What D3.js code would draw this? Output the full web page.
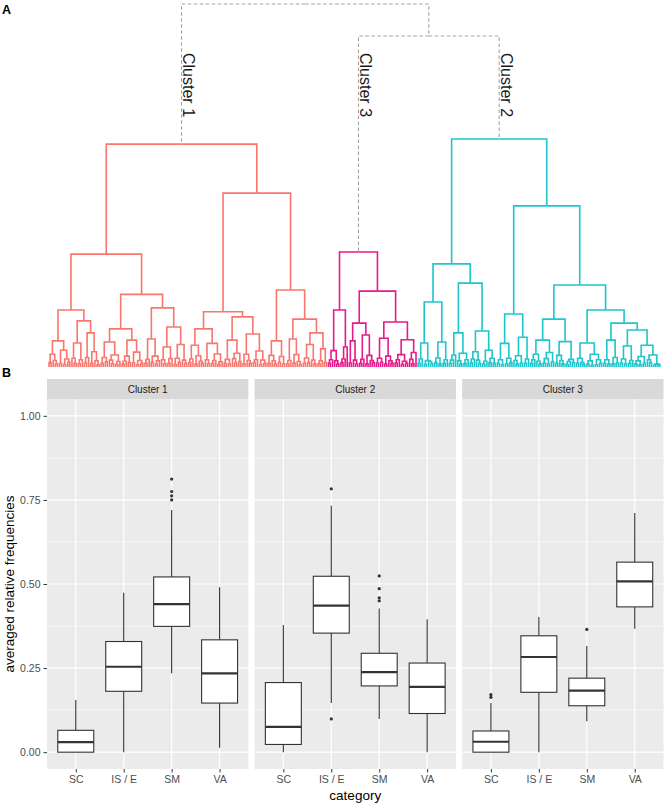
<!DOCTYPE html>
<html>
<head>
<meta charset="utf-8">
<script src="https://cdn.jsdelivr.net/npm/d3@7"></script>
<style>
  body { margin: 0; background: #fff; }
  text { font-family: "Liberation Sans", Arial, sans-serif; }
</style>
</head>
<body>
<div id="graph"></div>
<script>
// ---- panel A: dendrogram, newick with node heights after ")" (leaves empty)
var cluster1 = "(" +
  "((" +
    "(((,)1.2,(,(,)0.8)1.8)3.5,((,)1,((,)0.7,(,)1.3)2.2)4.6)7.2," +
    "(((,(,)1)2.4,((,)0.9,)2)6.6,(((,)1.1,)2.6,((,)1,(,(,)0.6)1.7)4.2)9.4)12.7" +
  ")15.7,(" +
    "((((,)1,(,)1.4)2.6,((,(,)0.9)1.9,((,)0.7,)1.5)3.3)6.9,((((,)0.8,)1.6,(,)1.2)3,((,)1.1,((,)0.6,(,)1)1.8)4.1)7.4)10.5," +
    "((((,)1,)2.1,((,)1.3,((,)0.8,)1.7)3)7.7,(((,(,)0.9)2,((,)1,)2.3)5.5,(((,)0.7,(,)1.2)2.4,(,(,)1)1.9)6.2)11)16.3" +
  ")20)31.1," +
  "((" +
    "((((,)1.2,)2.2,((,)0.8,(,(,)1)1.6)3.1)6,((,(,)0.9)2,(((,)1,)1.8,((,)0.7,)1.4)3.6)6.5)10.5," +
    "((((,)1,(,)0.8)2.1,((,(,)1.1)2.3,(,)1.5)3.8)7.4,(((,)0.9,(,(,)1)1.8)3.5,(((,)1.2,)2,((,)0.7,(,)1)1.9)4.4)9.1)13.8" +
  ")15.2,(" +
    "(((,)1,(,(,)0.8)1.7)3.2,((,)1.3,(,)0.9)2.9)7.2," +
    "((((,)0.9,)1.8,((,)1.1,(,(,)0.7)1.5)3.4)7.7,((((,)1,(,)1.2)2.5,(,(,)0.8)1.9)6.2,(((,)0.9,)1.7,(,)1.2)5)9.4)13.2" +
  ")21.2)47.9" +
")61.4"

var cluster3 = "(" +
  "((((,)1,)2,(,(,)0.8)1.7)4.5,(((,)1.2,)2.2,)5.5)15.7," +
  "((" +
    "((,)1.1,(,(,)0.8)1.9)7.2,(((,)1,)2.1,((,)0.9,(,(,)1.2)1.8)3.2)8.8" +
  ")12.1,(" +
    "(((,)1,(,)1.3)2.4,((,)0.8,(,(,)1)1.7)3)7.9,((((,)1.1,)2,((,)0.7,(,)1)1.6)3.4,((,(,)0.9)2.1,)4)7.5" +
  ")12.4)20.9" +
")31.7"

var cluster2 = "(" +
  "((" +
    "(((,)1,)2.2,((,)0.7,(,(,)0.9)1.5)1.8)6.6,(((,)1.2,(,)0.8)2.5,((,)1,)2)6.9" +
  ")17.9,(" +
    "((((,)1,)1.9,)3.3,((,(,)0.8)1.7,((,)1,)2)3.8)9.4," +
    "((((,)1.1,)2.2,(,(,)1)1.9)4.2,(((,)0.8,)1.6,((,)1.2,(,)1)2.4)4.6)9.9" +
  ")23.1)28.4," +
  "((" +
    "(((,)1,(,)0.6)2,((,)0.9,(,)1.2)2.4)6.5,(((,(,)0.8)1.8,(,)1.1)3.1,((,)1,)2.2)8.2" +
  ")14.6,((" +
    "((((,)1,)2,(,(,)0.8)1.6)3.5,(((,)1.1,(,)0.9)2.3,(,)1.4)4)7.4," +
    "(((,)1,(,(,)0.9)1.8)3.2,(((,)0.7,)1.5,(,)1.2)2.1)7" +
  ")13.2,(" +
    "(((,)1,(,(,)0.7)1.2)2.4,(((,)0.8,(,)0.5)1.7,((,)0.6,(,)1)2)3.5)6.6,(" +
      "(((,)1,(,)0.8)2,((,)0.9,(,)1.1)2.6)7.4," +
      "((((,)1.1,(,)0.8)2.2,((,)1,)1.8)5.8,((((,)0.9,(,)0.6)1.7,(,)1)2.9,((,(,)1.2)2,((,)0.5,(,)0.7)0.8)3.3)6)10.2" +
    ")12.1" +
  ")15.7)22.6)44.4" +
")62.8"

var clusterNames = ["Cluster 1", "Cluster 3", "Cluster 2"]
var clusterColours = ["#F8766D", "#E8198B", "#1CC6CB"]
var topHeights = [100, 91.2]   // root, cluster 3 + cluster 2
var labelHeight = 86.5

// ---- panel B: boxplots
var facets = ["Cluster 1", "Cluster 2", "Cluster 3"]
var categories = ["SC", "IS / E", "SM", "VA"]
var yTicks = [0, 0.25, 0.5, 0.75, 1]
var whiskerLow = [[0, 0, 0.235, 0.013], [0, 0.146, 0.099, 0], [0, 0, 0.092, 0.367]]
var q1 = [[0, 0.181, 0.374, 0.146], [0.023, 0.354, 0.197, 0.115], [0, 0.178, 0.138, 0.432]]
var median = [[0.03, 0.254, 0.44, 0.234], [0.075, 0.436, 0.238, 0.194], [0.031, 0.283, 0.183, 0.508]]
var q3 = [[0.065, 0.329, 0.521, 0.334], [0.207, 0.523, 0.294, 0.265], [0.063, 0.346, 0.22, 0.565]]
var whiskerHigh = [[0.155, 0.474, 0.72, 0.49], [0.378, 0.733, 0.427, 0.395], [0.146, 0.402, 0.316, 0.711]]
var outliers = [
  [[], [], [0.812, 0.775, 0.762, 0.75], []],
  [[], [0.783, 0.099], [0.524, 0.486, 0.459, 0.45], []],
  [[0.171, 0.163], [], [0.365], []]
]

var w = 666, h = 805

var svg = d3.select('#graph')
  .html('')
  .append('svg')
  .attr("width", w)
  .attr("height", h)

function parseNewick(s) {
  var i = 0
  function node() {
    var n = {h: 0, children: null}
    if (s[i] === '(') {
      n.children = []
      i++
      n.children.push(node())
      while (s[i] === ',') { i++; n.children.push(node()) }
      i++
      var m = /^[0-9.]+/.exec(s.slice(i))
      if (m) { n.h = +m[0]; i += m[0].length }
    }
    return n
  }
  return node()
}

function tag(n, c) {
  n.cluster = c
  if (n.children) n.children.forEach(function(k){ tag(k, c) })
}

var trees = [cluster1, cluster3, cluster2].map(parseNewick)
trees.forEach(function(t, i){ tag(t, i); t.top = true })

var tree = {h: topHeights[0], children: [trees[0], {h: topHeights[1], children: [trees[1], trees[2]]}]}

var hier = d3.hierarchy(tree)
d3.cluster().size([613, 1]).separation(function(){ return 1 })(hier)

var dx = function(d){ return 48 + d.x }
var dy = d3.scaleLinear().domain([0, 100]).range([367, 4])

var gA = svg.append("g")

gA.selectAll("path.link")
  .data(hier.links())
  .enter()
  .append("path")
    .attr("class", "link")
    .attr("fill", "none")
    .attr("d", function(l){
      return "M" + dx(l.source) + "," + dy(l.source.data.h) +
        "H" + dx(l.target) + "V" + dy(l.target.data.h)
    })
    .attr("stroke", function(l){
      return l.source.data.cluster === undefined ? "#A3A3A3" : clusterColours[l.target.data.cluster]
    })
    .attr("stroke-width", function(l){ return l.source.data.cluster === undefined ? 1.1 : 1.6 })
    .attr("stroke-dasharray", function(l){ return l.source.data.cluster === undefined ? "3.5,2.5" : null })

gA.selectAll("text.clab")
  .data(hier.descendants().filter(function(d){ return d.data.top }))
  .enter()
  .append("text")
    .attr("class", "clab")
    .attr("transform", function(d){ return "translate(" + (dx(d) + 1.5) + "," + dy(labelHeight) + ") rotate(90)" })
    .attr("font-size", 16)
    .attr("fill", "#1a1a1a")
    .text(function(d){ return clusterNames[d.data.cluster] })

svg.append("text").attr("x", 2).attr("y", 14).attr("font-size", 12.5).attr("font-weight", "bold").text("A")
svg.append("text").attr("x", 2).attr("y", 377).attr("font-size", 12.5).attr("font-weight", "bold").text("B")

// ---- boxplots
var y = d3.scaleLinear().domain([-0.05, 1.05]).range([769, 399])
var fx = d3.scaleBand().domain(facets).range([47, 663.5]).paddingInner(0.03)
var cx = d3.scalePoint().domain(categories).range([0, fx.bandwidth()]).padding(0.6)
var boxW = cx.step() * 0.75

var panels = svg.append("g").selectAll("g.panel")
  .data(facets)
  .enter()
  .append("g")
    .attr("class", "panel")
    .attr("transform", function(d){ return "translate(" + fx(d) + ",0)" })

panels.append("rect")
  .attr("y", 379).attr("width", fx.bandwidth()).attr("height", 20)
  .attr("fill", "#D9D9D9")
panels.append("text")
  .attr("x", fx.bandwidth() / 2).attr("y", 392.5)
  .attr("text-anchor", "middle").attr("font-size", 10).attr("fill", "#1A1A1A")
  .text(function(d){ return d })

panels.append("rect")
  .attr("y", y(1.05)).attr("width", fx.bandwidth()).attr("height", y(-0.05) - y(1.05))
  .attr("fill", "#EBEBEB")

var minor = yTicks.slice(0, -1).map(function(t){ return t + 0.125 })
panels.each(function(f, fi){
  var g = d3.select(this)
  g.selectAll("line.minor").data(minor).enter().append("line")
    .attr("x1", 0).attr("x2", fx.bandwidth())
    .attr("y1", function(d){ return y(d) }).attr("y2", function(d){ return y(d) })
    .attr("stroke", "#fff").attr("stroke-width", 0.6)
  g.selectAll("line.major").data(yTicks).enter().append("line")
    .attr("x1", 0).attr("x2", fx.bandwidth())
    .attr("y1", function(d){ return y(d) }).attr("y2", function(d){ return y(d) })
    .attr("stroke", "#fff").attr("stroke-width", 1.2)
  g.selectAll("line.vmajor").data(categories).enter().append("line")
    .attr("x1", function(d){ return cx(d) }).attr("x2", function(d){ return cx(d) })
    .attr("y1", y(1.05)).attr("y2", y(-0.05))
    .attr("stroke", "#fff").attr("stroke-width", 1.2)

  // x axis
  var ax = g.append("g").attr("transform", "translate(0," + y(-0.05) + ")")
    .call(d3.axisBottom(cx).tickSize(3.5).tickPadding(3))
  ax.select(".domain").remove()
  ax.selectAll("line").attr("stroke", "#333").attr("stroke-width", 1)
  ax.selectAll("text").attr("font-size", 10.5).attr("fill", "#4D4D4D")
    .attr("font-family", "Liberation Sans, Arial, sans-serif")

  var boxes = g.selectAll("g.box").data(categories).enter().append("g")
    .attr("transform", function(d){ return "translate(" + cx(d) + ",0)" })
  boxes.append("line")
    .attr("y1", function(d, i){ return y(whiskerLow[fi][i]) })
    .attr("y2", function(d, i){ return y(q1[fi][i]) })
    .attr("stroke", "#333").attr("stroke-width", 1.1)
  boxes.append("line")
    .attr("y1", function(d, i){ return y(q3[fi][i]) })
    .attr("y2", function(d, i){ return y(whiskerHigh[fi][i]) })
    .attr("stroke", "#333").attr("stroke-width", 1.1)
  boxes.append("rect")
    .attr("x", -boxW / 2).attr("width", boxW)
    .attr("y", function(d, i){ return y(q3[fi][i]) })
    .attr("height", function(d, i){ return y(q1[fi][i]) - y(q3[fi][i]) })
    .attr("fill", "#fff").attr("stroke", "#333").attr("stroke-width", 1.1)
  boxes.append("line")
    .attr("x1", -boxW / 2).attr("x2", boxW / 2)
    .attr("y1", function(d, i){ return y(median[fi][i]) })
    .attr("y2", function(d, i){ return y(median[fi][i]) })
    .attr("stroke", "#333").attr("stroke-width", 2.2)
  boxes.each(function(d, i){
    d3.select(this).selectAll("circle").data(outliers[fi][i]).enter().append("circle")
      .attr("cy", function(v){ return y(v) }).attr("r", 1.6).attr("fill", "#333")
  })
})

// y axis
var ay = svg.append("g").attr("transform", "translate(" + fx(facets[0]) + ",0)")
  .call(d3.axisLeft(y).tickValues(yTicks).tickFormat(d3.format(".2f")).tickSize(3.5).tickPadding(3))
ay.select(".domain").remove()
ay.selectAll("line").attr("stroke", "#333").attr("stroke-width", 1)
ay.selectAll("text").attr("font-size", 10.5).attr("fill", "#4D4D4D")
  .attr("font-family", "Liberation Sans, Arial, sans-serif")

svg.append("text")
  .attr("x", (fx.range()[0] + fx.range()[1]) / 2).attr("y", 800)
  .attr("text-anchor", "middle").attr("font-size", 13.5)
  .text("category")

svg.append("text")
  .attr("transform", "translate(14," + y(0.5) + ") rotate(-90)")
  .attr("text-anchor", "middle").attr("font-size", 13.5)
  .text("averaged relative frequencies")
</script>
</body>
</html>
